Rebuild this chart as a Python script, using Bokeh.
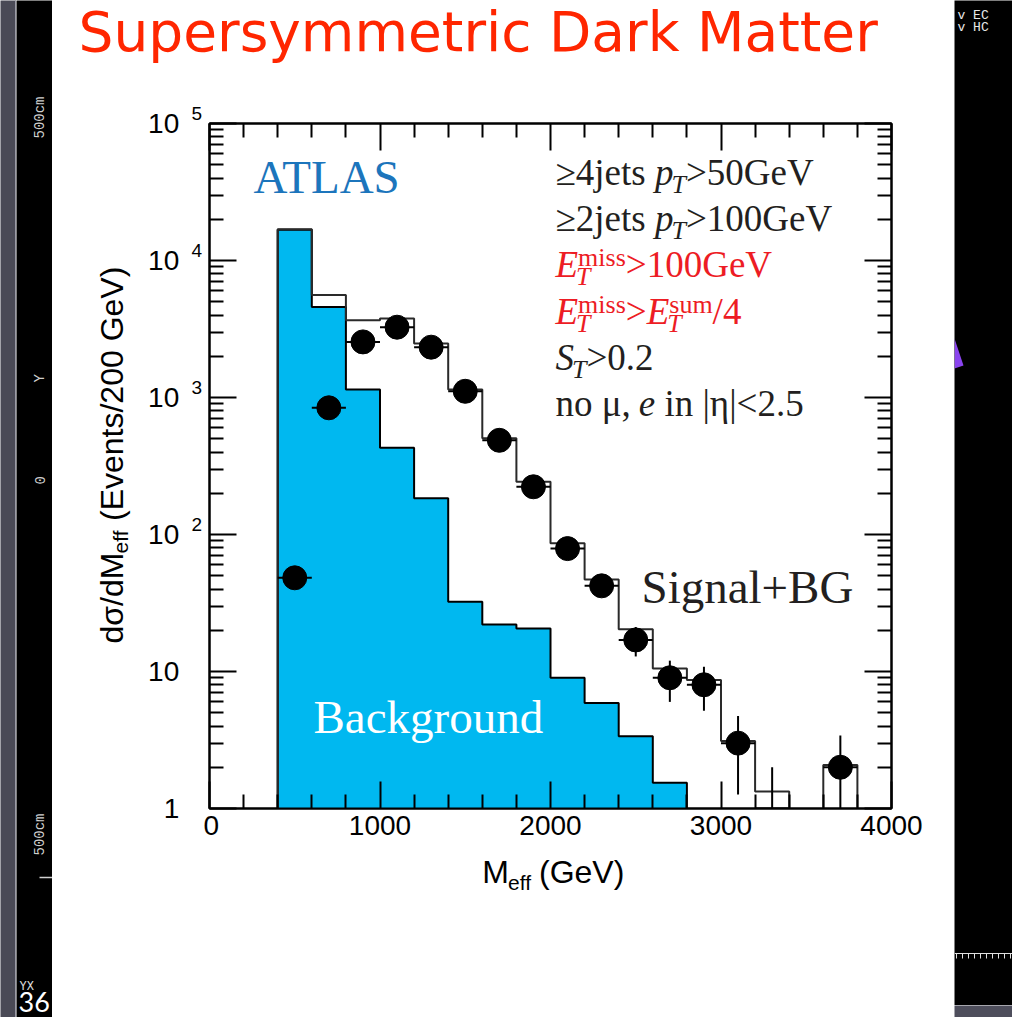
import math
import numpy as np
from bokeh.plotting import figure
from bokeh.models import (Range1d, FixedTicker, LinearAxis, LogAxis, Label, Span,
                          CustomJSTickFormatter)
from bokeh.layouts import row, column
from bokeh.embed import file_html
from bokeh.resources import INLINE

# ---------------- data ----------------
bin_edges = [400, 600, 800, 1000, 1200, 1400, 1600, 1800, 2000, 2200, 2400,
             2600, 2800, 3000, 3200, 3400, 3600, 3800, 4000]
background = [16800, 4580, 1146, 430, 184, 32.3, 22.0, 20.6, 9.0, 5.9, 3.37, 1.54]
signal_plus_bg = [16900, 5600, 3660, 3770, 2480, 1146, 504, 243, 86.4, 46.9,
                  20.3, 10.5, 8.67, 3.11, 1.33, 0, 2.08, 0]
data_x = [500, 700, 900, 1100, 1300, 1500, 1700, 1900, 2100, 2300, 2500,
          2700, 2900, 3100, 3300, 3700]
data_y = [48.3, 841, 2546, 3260, 2330, 1110, 487, 223, 78.9, 42.2, 17,
          9, 8, 3, 1, 2]
x_ticks = [0, 1000, 2000, 3000, 4000]
y_ticks = [1, 10, 100, 1000, 10000, 100000]

title_text = "Supersymmetric Dark Matter"
cut_lines = [
    [("≥4jets ", "r", "main"), ("p", "i", "main"), ("T", "i", "sub"), (">50GeV", "r", "main")],
    [("≥2jets ", "r", "main"), ("p", "i", "main"), ("T", "i", "sub"), (">100GeV", "r", "main")],
    [("E", "i", "main"), ("T", "i", "sub"), ("miss", "r", "sup"), (">100GeV", "r", "main")],
    [("E", "i", "main"), ("T", "i", "sub"), ("miss", "r", "sup"), (">", "r", "main"),
     ("E", "i", "main"), ("T", "i", "sub"), ("sum", "r", "sup"), ("/4", "r", "main")],
    [("S", "i", "main"), ("T", "i", "sub"), (">0.2", "r", "main")],
    [("no μ, ", "r", "main"), ("e", "i", "main"), (" in |η|<2.5", "r", "main")],
]
cut_colors = ["#231f20", "#231f20", "#ed1c24", "#ed1c24", "#231f20", "#231f20"]

# ---------------- layout constants (window pixels) ----------------
BLUE = "#00b8f0"
SANS = "Liberation Sans"
SERIF = "Liberation Serif"
MONO = "Liberation Mono"
FLOOR = 0.05                 # below the axis minimum, gets clipped
H = 1017
PX0, PX1 = 52, 954           # white panel
TOP_H, BOT_Y = 66, 853       # title strip height, start of bottom strip
YLAB_W = 151                 # strip holding y tick labels and y title
ML, MR, MT, MB = 6, 63, 57, 45
MAIN_W = (PX1 - PX0) - YLAB_W
MID_H = BOT_Y - TOP_H
FRAME_L = PX0 + YLAB_W + ML          # 209 in the window
FRAME_T = TOP_H + MT                 # 123
FRAME_B = BOT_Y - MB                 # 808
DECADE = (FRAME_B - FRAME_T) / 5.0


def bshift(size):
    # measured offset between requested and drawn alphabetic baseline
    return 4 + 0.27 * size


p = figure(width=MAIN_W, height=MID_H, x_range=Range1d(0, 4000),
           y_range=Range1d(1, 1e5), y_axis_type="log", output_backend="svg",
           toolbar_location=None, min_border_left=ML, min_border_right=MR,
           min_border_top=MT, min_border_bottom=MB, background_fill_color="white",
           border_fill_color="white", frame_align=False)
p.grid.visible = False
p.outline_line_color = "black"
p.outline_line_width = 2

x_minor = [v for v in range(0, 4001, 200) if v not in x_ticks]
y_minor = [k * 10 ** e for e in range(0, 5) for k in range(2, 10)]
xt = FixedTicker(ticks=x_ticks, minor_ticks=x_minor)
yt = FixedTicker(ticks=y_ticks, minor_ticks=y_minor)


def style_axis(ax, labels=False):
    ax.axis_line_width = 2
    ax.axis_line_color = "black"
    ax.major_tick_in = 27
    ax.major_tick_out = 0
    ax.minor_tick_in = 14
    ax.minor_tick_out = 0
    ax.major_tick_line_width = 2
    ax.minor_tick_line_width = 2
    ax.major_tick_line_color = "black"
    ax.minor_tick_line_color = "black"
    if labels:
        ax.major_label_text_font = SANS
        ax.major_label_text_font_size = "28px"
        ax.major_label_text_color = "black"
        ax.major_label_standoff = 7
    else:
        ax.formatter = CustomJSTickFormatter(code="return ''")
        ax.major_label_text_font_size = "1px"
        ax.major_label_standoff = 0


p.xaxis.ticker = xt
p.yaxis.ticker = yt
style_axis(p.xaxis[0], labels=True)
style_axis(p.yaxis[0], labels=False)
top_ax = LinearAxis(ticker=xt)
style_axis(top_ax)
p.add_layout(top_ax, "above")
right_ax = LogAxis(ticker=yt)
style_axis(right_ax)
p.add_layout(right_ax, "right")


def step_xy(edges, vals):
    xs, ys = [edges[0]], [FLOOR]
    for i, v in enumerate(vals):
        v = max(v, FLOOR)
        xs += [edges[i], edges[i + 1]]
        ys += [v, v]
    xs.append(edges[len(vals)])
    ys.append(FLOOR)
    return xs, ys


bx, by = step_xy(bin_edges, background)
p.patch(bx, by, fill_color=BLUE, line_color=None)
p.line(bx, by, line_color="black", line_width=2)
sx, sy = step_xy(bin_edges, signal_plus_bg)
p.line(sx, sy, line_color="#2a2a2a", line_width=2)

half = (bin_edges[1] - bin_edges[0]) / 2
dx = np.array(data_x, dtype=float)
dy = np.array(data_y, dtype=float)
err = np.sqrt(dy)
p.segment(x0=dx, y0=np.maximum(dy - err, FLOOR), x1=dx, y1=dy + err,
          line_color="black", line_width=2)
p.segment(x0=dx - half, y0=dy, x1=dx + half, y1=dy, line_color="black", line_width=2)
vis = dy > 1
p.scatter(dx[vis], dy[vis], marker="circle", size=24, fill_color="black",
          line_color="black")


def put_frame(text, wx, wy, size, color="black", font=SERIF, style="normal"):
    # text inside the plot frame; screen units are relative to the frame
    p.add_layout(Label(x=wx - FRAME_L, y=FRAME_B - (wy - bshift(size)),
                       x_units="screen", y_units="screen", text=text,
                       text_font=font, text_font_size=f"{size}px",
                       text_color=color, text_font_style=style,
                       text_align="left", text_baseline="alphabetic"))


def strip(w, h, x0, y0, color):
    # a figure whose data coordinates are window pixels (y downwards)
    f = figure(width=w, height=h, x_range=Range1d(x0, x0 + w),
               y_range=Range1d(y0 + h, y0), output_backend="svg",
               toolbar_location=None, min_border=0, x_axis_location=None,
               y_axis_location=None, background_fill_color=color,
               border_fill_color=color, outline_line_color=None,
               frame_align=False)
    f.grid.visible = False
    return f


def put(f, text, wx, wy, size, color="black", font=SANS, style="normal",
        align="left", angle=0.0):
    if angle:
        wx = wx - bshift(size)
    else:
        wy = wy - bshift(size)
    f.add_layout(Label(x=wx, y=wy, text=text, text_font=font,
                       text_font_size=f"{size}px", text_color=color,
                       text_font_style=style, text_align=align,
                       text_baseline="alphabetic", angle=angle))


# ---- title strip ----
top_fig = strip(PX1 - PX0, TOP_H, PX0, 0, "white")
put(top_fig, title_text, 78, 50, 55, color="#ff2600", font="DejaVu Sans")

# ---- y label strip ----
ylab = strip(YLAB_W, MID_H, PX0, TOP_H, "white")
for t in y_ticks:
    e = int(round(math.log10(t)))
    ty = FRAME_B - e * DECADE
    put(ylab, "1" if e == 0 else "10", 178.7, ty + 12, 28, align="right")
    if e >= 2:
        put(ylab, str(e), 191, ty - 1, 19)
rot = math.pi / 2
put(ylab, "dσ/dM", 124, 643, 32, angle=rot)
put(ylab, "eff", 130, 553, 21, angle=rot)
put(ylab, "(Events/200 GeV)", 124, 520.5, 32, angle=rot)

# ---- x label strip ----
bot_fig = strip(PX1 - PX0, H - BOT_Y, PX0, BOT_Y, "white")
put(bot_fig, "M", 481.7, 884.5, 32)
put(bot_fig, "eff", 507.5, 892, 21)
put(bot_fig, "(GeV)", 538.5, 884.5, 32)

# ---- annotations inside the frame ----
put_frame("ATLAS", 253, 193, 47, color="#1c75bc")
put_frame("Signal+BG", 641, 603.5, 47, color="#231f20")
put_frame("Background", 313, 733, 47, color="white")

TW_R = {' ': 250, '≥': 549, 'j': 278, 'e': 444, 't': 278, 's': 389, '>': 564,
        '<': 564, 'G': 722, 'V': 722, 'm': 778, 'i': 278, 'u': 500, '/': 278,
        '.': 250, 'n': 500, 'o': 500, 'μ': 500, ',': 250, '|': 200, 'η': 500}
TW_I = {'p': 500, 'T': 556, 'E': 611, 'S': 500, 'e': 444}


def text_width(s, size, italic):
    tab = TW_I if italic else TW_R
    return sum(tab.get(c, 500) for c in s) * size / 1000.0


CUT_MAIN, CUT_SUB = 37, 26
cut_x0 = 555
cut_base0, cut_step = 186, 46.2
for li, tokens in enumerate(cut_lines):
    yb = cut_base0 + li * cut_step
    color = cut_colors[li]
    x = cut_x0
    stack_x = x
    for text, style, role in tokens:
        italic = style == "i"
        if role == "main":
            size, start, shift = CUT_MAIN, x, 0
        elif role == "sub":
            size, start, shift = CUT_SUB, x - 2, 9
            stack_x = x
        else:
            size, start, shift = CUT_SUB, stack_x, -10
        lead = text_width(" " * (len(text) - len(text.lstrip(" "))), size, italic)
        tail = text_width(" " * (len(text) - len(text.rstrip(" "))), size, italic)
        body = text.strip(" ")
        put_frame(body, start + lead, yb + shift, size, color=color,
                  style="italic" if italic else "normal")
        end = start + lead + text_width(body, size, italic) + tail
        x = max(x, end) if role == "sup" else end

# ---------------- slide surroundings ----------------
gray_left = strip(16, H, 0, 0, "#4a4a56")
gray_left.add_layout(Span(location=15.25, dimension="height", line_color="#9a9aa6",
                          line_width=1.5))
black_left = strip(36, H, 16, 0, "black")
for txt, yy in [("500cm", 138), ("Y", 382), ("0", 484), ("500cm", 855)]:
    put(black_left, txt, 47, yy, 14, color="#d0d0d0", font=MONO, angle=rot)
black_left.line([39, 52], [877, 877], line_color="#d0d0d0", line_width=1.5)
put(black_left, "YX", 19, 994, 12, color="#e0e0e0", font=MONO)
put(black_left, "36", 18, 1013, 27, color="white", font="Lato")

right_top = strip(1012 - PX1, 1005, PX1, 0, "black")
put(right_top, "v EC", 957, 23, 13, color="#e8e8e8", font=MONO)
put(right_top, "v HC", 957, 35, 13, color="#e8e8e8", font=MONO)
right_top.patch([954, 963, 954], [338, 365, 368], fill_color="#8a44ee", line_color=None)
right_top.line([954, 1012], [953, 953], line_color="#e0e0e0", line_width=1)
rx = np.arange(956, 1012, 6)
right_top.segment(x0=rx, y0=953, x1=rx, y1=958, line_color="#e0e0e0", line_width=1)
right_bot = strip(1012 - PX1, H - 1005, PX1, 1005, "#4e4e5c")
right_bot.scatter([980], [1010], size=1, alpha=0)
top_fig.scatter([60], [60], size=1, alpha=0)
ylab.scatter([60], [700], size=1, alpha=0)
bot_fig.scatter([60], [1000], size=1, alpha=0)

panel = column(top_fig, row(ylab, p, spacing=0), bot_fig, spacing=0)
layout = row(gray_left, black_left, panel, column(right_top, right_bot, spacing=0),
             spacing=0)

open("out.html", "w").write(file_html(layout, INLINE))
